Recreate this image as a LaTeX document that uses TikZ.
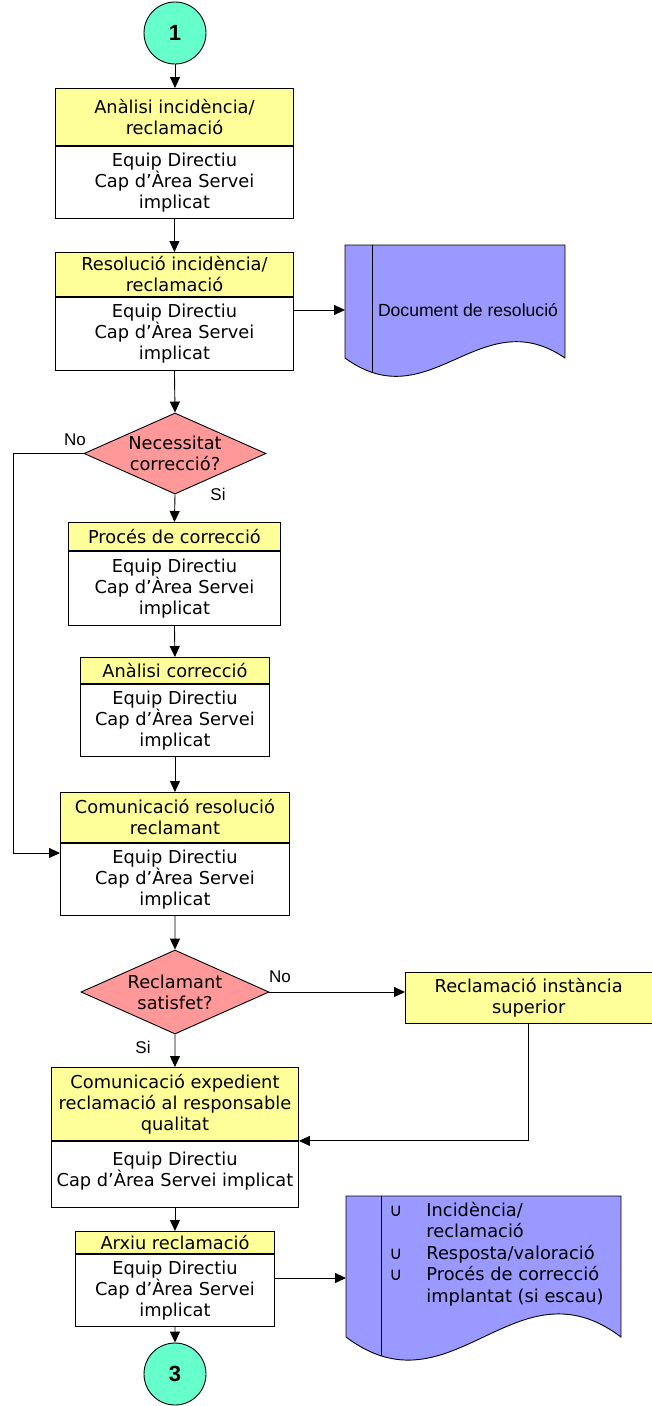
\documentclass[tikz,border=0pt]{standalone}
\usepackage{fontspec}
\setmainfont{DejaVu Sans}
\newfontfamily\arialf{Liberation Sans}
\usetikzlibrary{shapes.geometric,arrows.meta}
\definecolor{yel}{HTML}{FFFF99}
\definecolor{grn}{HTML}{66FFCC}
\definecolor{blu}{HTML}{9999FF}
\definecolor{rdd}{HTML}{FF9999}
\tikzset{
  txt/.style={font=\fontsize{17.8}{21}\selectfont},
  hd/.style={txt, draw, fill=yel, inner sep=0pt, align=center, anchor=north west},
  bd/.style={txt, draw, fill=white, inner sep=0pt, align=center, anchor=north},
  arr/.style={draw, -{Triangle[length=11pt,width=10pt]}},
  conn/.style={circle, draw, fill=grn, minimum size=62pt, inner sep=0pt, font=\arialf\bfseries\fontsize{22}{24}\selectfont},
  dec/.style={diamond, draw, fill=rdd, inner sep=0pt},
  lbl/.style={font=\arialf\fontsize{17}{20}\selectfont, inner sep=0pt},
  docshape/.style={draw, fill=blu}
}
\begin{document}
\begin{tikzpicture}[x=1pt,y=-1pt,line width=0.9pt]
\useasboundingbox (0,0) rectangle (652,1406);

% connector 1
\node[conn] (c1) at (175,33) {1};

% box 1
\node[hd, minimum width=238pt, minimum height=57pt] (b1h) at (55,88) {Anàlisi incidència/\\reclamació};
\node[bd, minimum width=238pt, minimum height=72pt] (b1b) at (b1h.south) {Equip Directiu\\Cap d’Àrea Servei\\implicat};

% box 2
\node[hd, minimum width=238pt, minimum height=44pt] (b2h) at (55,252) {Resolució incidència/\\reclamació};
\node[bd, minimum width=238pt, minimum height=73pt] (b2b) at (b2h.south) {Equip Directiu\\Cap d’Àrea Servei\\implicat};

% document 1
\path[docshape] (345,245) -- (565,245) -- (565,358) .. controls (480,300) and (430,420) .. (345,358) -- cycle;
\begin{scope}
  \clip (345,245) -- (565,245) -- (565,358) .. controls (480,300) and (430,420) .. (345,358) -- cycle;
  \draw (372,240) -- (372,420);
\end{scope}
\node[font=\arialf\fontsize{17.6}{20}\selectfont, inner sep=0pt] (doc1) at (468,310) {Document de resolució};
\coordinate (doc1in) at (345,310);

% decision 1
\node[dec, minimum width=182pt, minimum height=81pt] (d1) at (175,453.5) {};
\node[txt, align=center, inner sep=0pt] (d1t) at (d1.center) {Necessitat\\correcció?};
\coordinate (lft) at (13,453.5);
\coordinate (in5) at (60,853);

% box 3
\node[hd, minimum width=212pt, minimum height=28pt] (b3h) at (68,522) {Procés de correcció};
\node[bd, minimum width=212pt, minimum height=74pt] (b3b) at (b3h.south) {Equip Directiu\\Cap d’Àrea Servei\\implicat};

% box 4
\node[hd, minimum width=189pt, minimum height=26pt] (b4h) at (80,657) {Anàlisi correcció};
\node[bd, minimum width=189pt, minimum height=72pt] (b4b) at (b4h.south) {Equip Directiu\\Cap d’Àrea Servei\\implicat};

% box 5
\node[hd, minimum width=229pt, minimum height=50pt] (b5h) at (60,792) {Comunicació resolució\\reclamant};
\node[bd, minimum width=229pt, minimum height=72pt] (b5b) at (b5h.south) {Equip Directiu\\Cap d’Àrea Servei\\implicat};

% decision 2
\node[dec, minimum width=188pt, minimum height=84pt] (d2) at (175,992) {};
\node[txt, align=center, inner sep=0pt] (d2t) at (d2.center) {Reclamant\\satisfet?};

% reclamacio instancia superior
\node[hd, minimum width=246.5pt, minimum height=51pt] (rc) at (405,972) {Reclamació instància\\superior};

% box 6
\node[hd, minimum width=247pt, minimum height=73pt] (b6h) at (51,1067) {Comunicació expedient\\reclamació al responsable\\qualitat};
\node[bd, minimum width=247pt, minimum height=66pt] (b6b) at (b6h.south) {Equip Directiu\\Cap d’Àrea Servei implicat\\[-10pt]\mbox{}};

% box 7
\node[hd, minimum width=199pt, minimum height=22pt] (b7h) at (75,1231) {Arxiu reclamació};
\node[bd, minimum width=199pt, minimum height=72pt] (b7b) at (b7h.south) {Equip Directiu\\Cap d’Àrea Servei\\implicat};

% document 2
\path[docshape] (346,1196) -- (621,1196) -- (621,1337) .. controls (515,1257) and (452,1417) .. (346,1337) -- cycle;
\begin{scope}
  \clip (346,1196) -- (621,1196) -- (621,1337) .. controls (515,1257) and (452,1417) .. (346,1337) -- cycle;
  \draw (381,1190) -- (381,1420);
\end{scope}
\node[anchor=west, inner sep=0pt, font=\fontsize{17.8}{21.5}\selectfont] (doc2) at (389,1255)
  {\begin{tabular}{@{}p{37pt}@{}l@{}}∪ & Incidència/\\ & reclamació\\ ∪ & Resposta/valoració\\ ∪ & Procés de correcció\\ & implantat (si escau)\end{tabular}};
\coordinate (doc2in) at (346,1278);

% connector 3
\node[conn] (c3) at (175,1374) {3};

% labels
\node[lbl] (no1) at (75,440) {No};
\node[lbl] (si1) at (218,494) {Si};
\node[lbl] (no2) at (280,977) {No};
\node[lbl] (si2) at (143,1047) {Si};

% connectors
\draw[arr] (c1.south) -- (b1h.north -| c1.south);
\draw[arr] (b1b.south) -- (b2h.north);
\draw[arr] (b2b.east |- doc1in) -- (doc1in);
\draw[arr] (b2b.south) -- (d1.north);
\draw[arr] (d1.west) -- (lft) -- (lft |- in5) -- (in5);
\draw[arr] (d1.south) -- (b3h.north);
\draw[arr] (b3b.south) -- (b4h.north);
\draw[arr] (b4b.south) -- (b5h.north);
\draw[arr] (b5b.south) -- (d2.north);
\draw[arr] (d2.east) -- (rc.west |- d2.east);
\draw[arr] (d2.south) -- (b6h.north);
\draw[arr] (rc.south) |- (b6h.south east);
\draw[arr] (b6b.south) -- (b7h.north);
\draw[arr] (b7b.east |- doc2in) -- (doc2in);
\draw[arr] (b7b.south) -- (c3.north);
\end{tikzpicture}
\end{document}
